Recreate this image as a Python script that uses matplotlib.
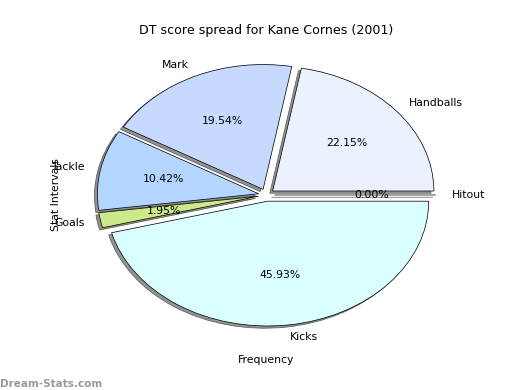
import matplotlib
matplotlib.use("Agg")
import matplotlib.pyplot as plt

labels = ["Handballs", "Mark", "Tackle", "Goals", "Kicks", "Hitout"]
values = [22.15, 19.54, 10.42, 1.95, 45.93, 0.0]
colors = ["#ebf1ff", "#c6d9ff", "#b3d5ff", "#ccea8a", "#d9ffff", "#ffffff"]
explode = [0.05] * len(values)


def main():
    fig = plt.figure(figsize=(8, 6), dpi=65)
    ax = fig.add_axes([0.125, 0.1, 0.775, 0.8])
    ax.pie(values, labels=labels, colors=colors, explode=explode,
           autopct="%1.2f%%", shadow={"facecolor": "#808080", "alpha": 0.85},
           labeldistance=1.1, pctdistance=0.6,
           wedgeprops={"edgecolor": "black", "linewidth": 0.8},
           textprops={"fontsize": 12})
    ax.set_aspect("auto")
    ax.set_xlim(-1.25, 1.25)
    ax.set_ylim(-1.25, 1.25)
    ax.set_title("DT score spread for Kane Cornes (2001)", fontsize=14, pad=5)
    ax.set_xlabel("Frequency", fontsize=12)
    ax.set_ylabel("Stat Intervals", fontsize=12)
    fig.text(0.0, 0.008, "Dream-Stats.com", color="#999999", fontsize=11.5,
             fontweight="bold")
    fig.savefig("out.png", dpi=65)


if __name__ == "__main__":
    main()
